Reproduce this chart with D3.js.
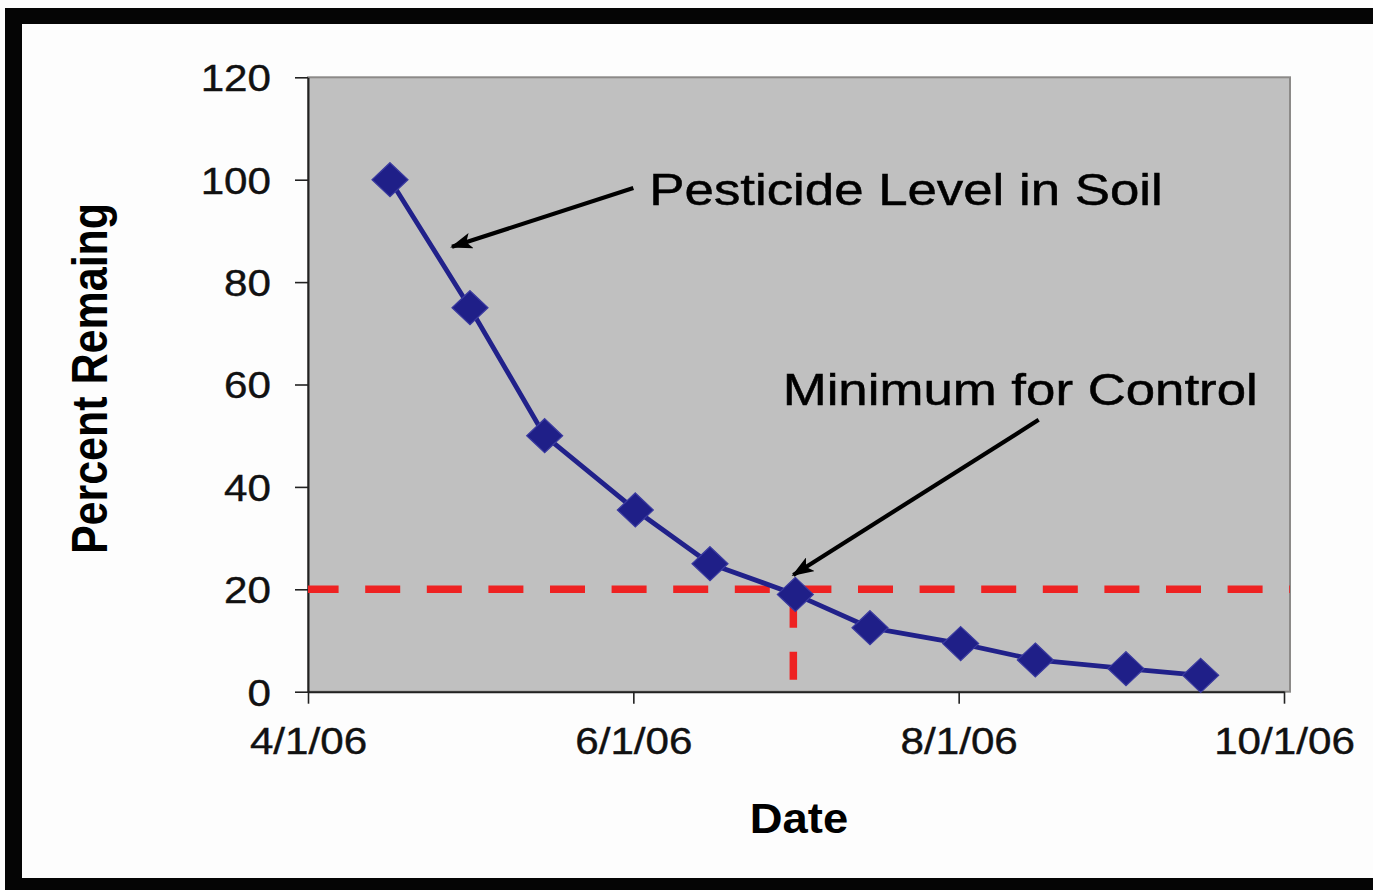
<!DOCTYPE html>
<html>
<head>
<meta charset="utf-8">
<script src="https://cdn.jsdelivr.net/npm/d3@7"></script>
<style>
  html, body { margin: 0; padding: 0; background: #fdfdfd; overflow: hidden; }
  svg { display: block; font-family: "Liberation Sans", Arial, sans-serif; }
</style>
</head>
<body>
<svg id="chart" width="1373" height="890"></svg>
<script>
// ---- data ----
const sampleDates = ["2006-04-16","2006-05-01","2006-05-15","2006-06-01","2006-06-15","2006-07-01","2006-07-15","2006-08-01","2006-08-15","2006-09-01","2006-09-15"];
const percentRemaining = [100, 75, 50, 35.5, 25, 19, 12.5, 9.4, 6.2, 4.5, 3.2];
const yTickValues = [0, 20, 40, 60, 80, 100, 120];
const xTickDates = ["2006-04-01", "2006-06-01", "2006-08-01", "2006-10-01"];
const xTickLabels = ["4/1/06", "6/1/06", "8/1/06", "10/1/06"];
const controlMinimum = 20;
const controlDate = "2006-07-01";
const yAxisTitle = "Percent Remaing";
const xAxisTitle = "Date";
// annotations in data units: [days after 4/1/06, percent]
const annotationLabels = ["Pesticide Level in Soil", "Minimum for Control"];
const annotationTextPos = [[64.7, 95.1], [89.4, 56.0]];
const arrowStarts = [[61.3, 98.4], [137.8, 53.1]];
const arrowTips = [[27.2, 86.9], [91.1, 22.8]];

// ---- layout ----
const parse = d3.utcParse("%Y-%m-%d");
const svg = d3.select("#chart");
const W = 1373, H = 890;
const plot = {left: 308, right: 1290, top: 77.3, bottom: 691.7};

// frame: white page with black bars on top, left and bottom
svg.append("rect").attr("x", 0).attr("y", 0).attr("width", W).attr("height", H).attr("fill", "#fdfdfd");
svg.append("rect").attr("x", 5).attr("y", 8).attr("width", W - 5).attr("height", 16).attr("fill", "#050505");
svg.append("rect").attr("x", 5).attr("y", 8).attr("width", 17).attr("height", H - 8).attr("fill", "#050505");
svg.append("rect").attr("x", 5).attr("y", 878).attr("width", W - 5).attr("height", H - 878).attr("fill", "#050505");

const x = d3.scaleUtc().domain([parse(xTickDates[0]), parse(xTickDates[xTickDates.length - 1])]).range([308, 1284]);
const y = d3.scaleLinear().domain([0, 120]).range([plot.bottom, plot.top]);
const dayToDate = d => d3.utcDay.offset(parse(xTickDates[0]), d);

// plot area
svg.append("rect")
  .attr("x", plot.left).attr("y", plot.top)
  .attr("width", plot.right - plot.left).attr("height", plot.bottom - plot.top)
  .attr("fill", "#c0c0c0").attr("stroke", "#8c8a88").attr("stroke-width", 2);

const SX = 1.14;

// y axis
const yAxis = svg.append("g").attr("transform", `translate(${plot.left},0)`)
  .call(d3.axisLeft(y).tickValues(yTickValues).tickSize(13).tickPadding(24).tickSizeOuter(0));
yAxis.select(".domain").attr("stroke", "#222").attr("stroke-width", 2);
yAxis.selectAll(".tick line").attr("stroke", "#222").attr("stroke-width", 1.6);
yAxis.selectAll(".tick text")
  .attr("font-size", 37).attr("fill", "#111")
  .attr("font-family", "Liberation Sans, Arial, sans-serif")
  .attr("stroke", "#111").attr("stroke-width", 0.4)
  .attr("x", -37 / SX).attr("dy", "0.36em")
  .attr("transform", `scale(${SX},1)`);

// x axis
const xAxis = svg.append("g").attr("transform", `translate(0,${plot.bottom})`)
  .call(d3.axisBottom(x).tickValues(xTickDates.map(parse))
    .tickFormat((d, i) => xTickLabels[i]).tickSize(12).tickPadding(24).tickSizeOuter(0));
xAxis.select(".domain").attr("stroke", "#222").attr("stroke-width", 2);
xAxis.selectAll(".tick line").attr("stroke", "#222").attr("stroke-width", 1.6);
xAxis.selectAll(".tick text")
  .attr("font-size", 37).attr("fill", "#111")
  .attr("font-family", "Liberation Sans, Arial, sans-serif")
  .attr("stroke", "#111").attr("stroke-width", 0.4)
  .attr("transform", `scale(${SX},1)`);

// control minimum lines (red dashed)
svg.append("line")
  .attr("x1", plot.left).attr("x2", plot.right)
  .attr("y1", y(controlMinimum)).attr("y2", y(controlMinimum))
  .attr("stroke", "#ee2222").attr("stroke-width", 7.5)
  .attr("stroke-dasharray", "35,26.6").attr("stroke-dashoffset", 4.4);
svg.append("line")
  .attr("x1", x(parse(controlDate))).attr("x2", x(parse(controlDate)))
  .attr("y1", y(0)).attr("y2", y(controlMinimum))
  .attr("stroke", "#ee2222").attr("stroke-width", 7.5)
  .attr("stroke-dasharray", "28,24").attr("stroke-dashoffset", 40);

// series line
const series = sampleDates.map((d, i) => ({date: parse(d), value: percentRemaining[i]}));
svg.append("path").datum(series)
  .attr("fill", "none").attr("stroke", "#21218a").attr("stroke-width", 4.8)
  .attr("stroke-linejoin", "round")
  .attr("d", d3.line().x(d => x(d.date) + 2).y(d => y(d.value)));

// diamond markers
svg.selectAll(".marker").data(series).join("path")
  .attr("class", "marker")
  .attr("transform", d => `translate(${x(d.date) + 2},${y(d.value)})`)
  .attr("d", "M0,-17L18,0L0,17L-18,0Z")
  .attr("fill", "#1f1f88").attr("stroke", "#3a3aa0").attr("stroke-width", 1.2);

// arrows
const defs = svg.append("defs");
defs.append("marker").attr("id", "arrowhead")
  .attr("viewBox", "0 0 22 16").attr("refX", 20).attr("refY", 8)
  .attr("markerWidth", 22).attr("markerHeight", 16)
  .attr("markerUnits", "userSpaceOnUse").attr("orient", "auto")
  .append("path").attr("d", "M0,0L22,8L0,16L5,8Z").attr("fill", "#000");

arrowStarts.forEach((s, i) => {
  const t = arrowTips[i];
  svg.append("line")
    .attr("x1", x(dayToDate(s[0]))).attr("y1", y(s[1]))
    .attr("x2", x(dayToDate(t[0]))).attr("y2", y(t[1]))
    .attr("stroke", "#000").attr("stroke-width", 4.2)
    .attr("marker-end", "url(#arrowhead)");
});

// annotation labels
annotationLabels.forEach((lab, i) => {
  const p = annotationTextPos[i];
  svg.append("text")
    .attr("transform", `translate(${x(dayToDate(p[0]))},${y(p[1])}) scale(1.2,1)`)
    .attr("font-size", 44).attr("fill", "#000")
    .attr("stroke", "#000").attr("stroke-width", 0.5)
    .text(lab);
});

// axis titles
svg.append("text")
  .attr("transform", `translate(107,378.5) scale(1.15,1) rotate(-90)`)
  .attr("text-anchor", "middle").attr("font-size", 43).attr("font-weight", "bold").attr("fill", "#000")
  .text(yAxisTitle);
svg.append("text")
  .attr("transform", `translate(799,833) scale(1.08,1)`)
  .attr("text-anchor", "middle").attr("font-size", 42).attr("font-weight", "bold").attr("fill", "#000")
  .text(xAxisTitle);
</script>
</body>
</html>
